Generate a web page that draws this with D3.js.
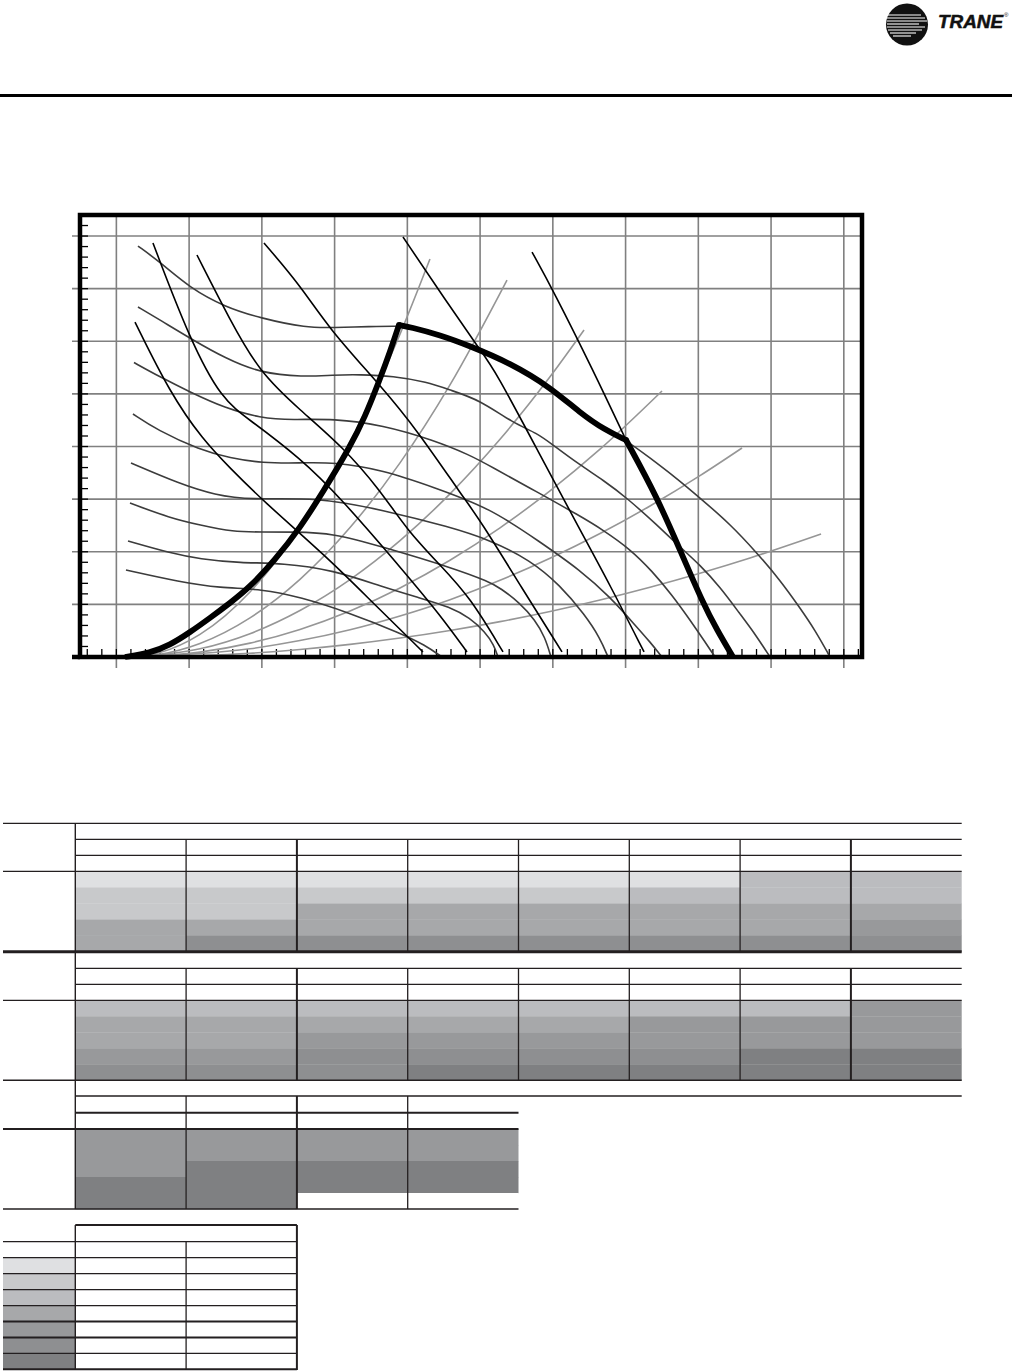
<!DOCTYPE html>
<html><head><meta charset="utf-8">
<script src="https://cdn.jsdelivr.net/npm/d3@7"></script>
<style>body{margin:0;background:#fff}svg{display:block}</style>
</head><body>
<svg id="c" width="1012" height="1371"></svg>
<script>
// ---------- chart data (CFM, in. wg) ----------
const xMajorTicks = [1000,2000,3000,4000,5000,6000,7000,8000,9000,10000,11000];
const yMajorTicks = [0.5,1.0,1.5,2.0,2.5,3.0,3.5,4.0];
const xMinorTicks = [600,800,1000,1200,1400,1600,1800,2000,2200,2400,2600,2800,3000,3200,3400,3600,3800,4000,4200,4400,4600,4800,5000,5200,5400,5600,5800,6000,6200,6400,6600,6800,7000,7200,7400,7600,7800,8000,8200,8400,8600,8800,9000,9200,9400,9600,9800,10000,10200,10400,10600,10800,11000,11200];
const yMinorTicks = [0.1,0.2,0.3,0.4,0.5,0.6,0.7,0.8,0.9,1.0,1.1,1.2,1.3,1.4,1.5,1.6,1.7,1.8,1.9,2.0,2.1,2.2,2.3,2.4,2.5,2.6,2.7,2.8,2.9,3.0,3.1,3.2,3.3,3.4,3.5,3.6,3.7,3.8,3.9,4.0,4.1];

// fan speed curves (dark grey)
const rpm1 = [[1297,3.905],[1600,3.753],[2012,3.506],[2493,3.326],[2974,3.221],[3620,3.126],[3978,3.131],[4487,3.140],[4885,3.145],[5036,3.136],[5449,3.060],[5861,2.955],[6411,2.794],[6961,2.566],[7374,2.319],[7717,2.157],[8006,2.062],[8336,1.891],[8680,1.710],[9023,1.511],[9436,1.264],[9807,0.988],[10123,0.732],[10398,0.466],[10604,0.257],[10811,0]];
const rpm2 = [[1297,3.326],[1600,3.202],[2053,3.012],[2493,2.841],[2974,2.699],[3565,2.661],[3978,2.680],[4349,2.684],[4803,2.670],[5270,2.613],[5586,2.537],[5999,2.442],[6453,2.223],[6783,2.128],[7002,2.014],[7374,1.824],[7690,1.682],[8020,1.511],[8432,1.254],[8748,1.045],[9023,0.874],[9298,0.665],[9573,0.409],[9780,0.219],[9986,0]];
const rpm3 = [[1242,2.798],[1600,2.661],[2012,2.518],[2493,2.366],[2974,2.271],[3428,2.252],[3978,2.266],[4665,2.204],[5353,2.062],[5861,1.919],[6136,1.815],[6783,1.568],[7374,1.340],[7690,1.207],[8061,1.026],[8364,0.817],[8639,0.589],[8886,0.352],[9092,0.143],[9230,0]];
const rpm4 = [[1228,2.309],[1558,2.157],[2149,1.967],[2562,1.891],[3002,1.843],[3524,1.843],[3992,1.853],[4665,1.777],[5353,1.615],[6136,1.416],[6824,1.093],[7374,0.827],[7786,0.570],[8130,0.304],[8336,0.143],[8501,0]];
const rpm5 = [[1201,1.843],[1874,1.644],[2356,1.539],[2837,1.492],[3758,1.520],[4665,1.397],[5586,1.235],[6136,1.112],[6686,0.922],[7099,0.684],[7442,0.399],[7649,0.181],[7759,0]];
const rpm6 = [[1187,1.463],[1737,1.321],[2149,1.254],[2603,1.188],[3002,1.188],[3428,1.188],[3978,1.178],[4665,1.045],[5586,0.855],[6136,0.713],[6274,0.656],[6549,0.513],[6755,0.352],[6892,0.190],[6975,0]];
const rpm7 = [[1160,1.102],[1737,0.988],[2149,0.931],[2699,0.893],[3290,0.893],[3978,0.827],[4665,0.665],[5174,0.561],[5586,0.475],[5861,0.371],[6068,0.238],[6191,0.114],[6246,0]];
const rpm8 = [[1132,0.827],[1874,0.713],[2424,0.656],[3002,0.646],[3524,0.570],[4212,0.418],[4899,0.228],[5243,0.114],[5476,0]];
const rpmCurves = [rpm1,rpm2,rpm3,rpm4,rpm5,rpm6,rpm7,rpm8];

// brake horsepower lines (black)
const bhp1 = [[1256,3.183],[1737,2.509],[2191,2.062],[2562,1.796],[3002,1.492],[3895,0.950],[4487,0.542],[5215,0.048]];
const bhp2 = [[1503,3.934],[2012,3.012],[2452,2.442],[2837,2.252],[3524,1.891],[4074,1.520],[4995,0.779],[5449,0.399],[5820,0.048]];
const bhp3 = [[2108,3.820],[2562,3.202],[2974,2.699],[3524,2.347],[4115,1.995],[4624,1.587],[4995,1.207],[5449,0.874],[5861,0.570],[6315,0.048]];
const bhp4 = [[3029,3.934],[3524,3.535],[3937,3.107],[4624,2.585],[5133,2.157],[5765,1.520],[5999,1.302],[6549,0.684],[7126,0.048]];
const bhp5 = [[4940,3.991],[5449,3.468],[5999,2.917],[6205,2.727],[6824,1.919],[7374,1.207],[7786,0.684],[8254,0.048]];
const bhp6 = [[6714,3.848],[7002,3.487],[7552,2.727],[8006,2.062]];
const bhpLines = [bhp1,bhp2,bhp3,bhp4,bhp5,bhp6];

// system curves (light grey)
const sys1 = [[1160,0],[1600,0.043],[2149,0.215],[2837,0.618],[3524,1.227],[4212,2.044],[4899,3.068],[5311,3.782]];
const sys2 = [[1160,0],[1600,0.026],[2149,0.129],[2837,0.372],[3524,0.738],[4212,1.230],[4899,1.845],[5586,2.586],[6370,3.582]];
const sys3 = [[1160,0],[2149,0.078],[2837,0.222],[3524,0.442],[4212,0.736],[4899,1.106],[5586,1.550],[6274,2.069],[6961,2.662],[7429,3.107]];
const sys4 = [[1160,0],[2149,0.046],[2837,0.132],[3524,0.262],[4212,0.437],[4899,0.656],[5586,0.919],[6274,1.227],[6961,1.579],[7649,1.975],[8501,2.528]];
const sys5 = [[1160,0],[2837,0.078],[3524,0.156],[4212,0.259],[4899,0.390],[5586,0.545],[6274,0.729],[6961,0.938],[7649,1.173],[8336,1.435],[9023,1.723],[9601,1.986]];
const sys6 = [[1160,0],[2837,0.036],[3524,0.072],[4212,0.120],[4899,0.180],[5586,0.252],[6274,0.336],[6961,0.433],[7649,0.542],[8336,0.663],[9023,0.796],[9711,0.941],[10398,1.099],[10687,1.169]];
const systemCurves = [sys1,sys2,sys3,sys4,sys5,sys6];

// operating envelope (thick black)
const envelopeRise = [[1118,0],[1462,0.038],[1737,0.114],[1998,0.228],[2287,0.371],[2562,0.513],[2837,0.665],[3180,0.922],[3524,1.226],[3840,1.568],[4211,1.995],[4418,2.281],[4624,2.642],[4761,2.898],[4885,3.155]];
const envelopeTop = [[4885,3.155],[5036,3.136],[5449,3.060],[5861,2.955],[6411,2.794],[6961,2.566],[7374,2.319],[7717,2.157],[8006,2.062]];
const envelopeFall = [[8006,2.062],[8432,1.520],[8748,1.017],[9064,0.513],[9257,0.257],[9477,0]];

// ---------- table data (shade level per row, per column) ----------
const shades = ["#ffffff","#dfe0e2","#c8c9cb","#bbbcbf","#a7a8aa","#98999b","#8e8f91","#7f8082"];
const tableOne   = [[1,2,2,4,4],[1,2,2,4,6],[1,2,4,4,6],[1,2,4,4,6],[1,2,4,4,6],[1,3,4,4,6],[3,3,4,4,6],[3,3,4,5,6]];
const tableTwo   = [[3,4,4,5,6],[3,4,4,5,6],[3,4,5,6,6],[3,4,5,6,7],[3,4,5,6,7],[3,5,5,6,7],[3,5,5,7,7],[5,5,5,7,7]];
const tableThree = [[5,5,5,7,7],[5,5,7,7,7],[5,5,7,7,0],[5,5,7,7,0]];
const legendLevels = [1,2,3,4,5,6,7];

// ---------- drawing ----------
const svg = d3.select("#c");
const x = d3.scaleLinear().domain([500,11250]).range([80,862]);
const y = d3.scaleLinear().domain([0,4.2]).range([657,215]);
const ink = "#231f20";

// header rule
svg.append("line").attr("x1",0).attr("x2",1012).attr("y1",95.5).attr("y2",95.5)
  .attr("stroke","#000").attr("stroke-width",3);

// logo
const logo = svg.append("g");
logo.append("circle").attr("cx",907).attr("cy",24.5).attr("r",21).attr("fill","#111");
const stripes = [[888,15,921],[887,18,925],[887,21,927],[887,24,919],[887,27,925],[888,30,922],[890,33,916],[893,36,911]];
logo.selectAll("line.s").data(stripes).join("line")
  .attr("x1",d=>d[0]).attr("x2",d=>d[2]).attr("y1",d=>d[1]).attr("y2",d=>d[1])
  .attr("stroke","#fff").attr("stroke-width",1.1);
logo.append("text").attr("x",938).attr("y",28).text("TRANE")
  .attr("font-family","Liberation Sans, Arial, sans-serif").attr("font-weight","900")
  .attr("font-style","italic").attr("font-size",17.5).attr("textLength",65)
  .attr("lengthAdjust","spacingAndGlyphs").attr("fill","#111")
  .attr("stroke","#111").attr("stroke-width",0.5);
logo.append("text").attr("x",1004).attr("y",17).text("®")
  .attr("font-family","Liberation Sans, Arial, sans-serif").attr("font-size",6).attr("fill","#111");

// chart grid
const g = svg.append("g");
g.selectAll("line.gx").data(xMajorTicks).join("line")
  .attr("x1",d=>x(d)).attr("x2",d=>x(d)).attr("y1",y(4.2)).attr("y2",668)
  .attr("stroke","#808080").attr("stroke-width",1.6);
g.selectAll("line.gy").data(yMajorTicks).join("line")
  .attr("x1",72).attr("x2",x(11250)).attr("y1",d=>y(d)).attr("y2",d=>y(d))
  .attr("stroke","#808080").attr("stroke-width",1.6);

// minor ticks
g.selectAll("line.mx").data(xMinorTicks).join("line")
  .attr("x1",d=>x(d)).attr("x2",d=>x(d)).attr("y1",y(0)).attr("y2",y(0)-8)
  .attr("stroke","#000").attr("stroke-width",1.3);
g.selectAll("line.my").data(yMinorTicks).join("line")
  .attr("x1",x(500)).attr("x2",x(500)+8).attr("y1",d=>y(d)).attr("y2",d=>y(d))
  .attr("stroke","#000").attr("stroke-width",1.3);

const smooth = d3.line().x(d=>x(d[0])).y(d=>y(d[1])).curve(d3.curveBasis);
const mono = d3.line().x(d=>x(d[0])).y(d=>y(d[1])).curve(d3.curveMonotoneX);

g.selectAll("path.sys").data(systemCurves).join("path")
  .attr("d",mono).attr("fill","none").attr("stroke","#969696").attr("stroke-width",1.6);
g.selectAll("path.rpm").data(rpmCurves).join("path")
  .attr("d",smooth).attr("fill","none").attr("stroke","#3c3c3c").attr("stroke-width",1.6);
g.selectAll("path.bhp").data(bhpLines).join("path")
  .attr("d",smooth).attr("fill","none").attr("stroke","#000").attr("stroke-width",1.6);
g.selectAll("path.env").data([envelopeRise,envelopeTop,envelopeFall]).join("path")
  .attr("d",smooth).attr("fill","none").attr("stroke","#000").attr("stroke-width",5.8)
  .attr("stroke-linejoin","round");
g.selectAll("circle.joint").data([envelopeTop[0],envelopeFall[0]]).join("circle")
  .attr("cx",d=>x(d[0])).attr("cy",d=>y(d[1])).attr("r",2.9).attr("fill","#000");

// frame
g.append("rect").attr("x",x(500)).attr("y",y(4.2)).attr("width",x(11250)-x(500)).attr("height",y(0)-y(4.2))
  .attr("fill","none").attr("stroke","#000").attr("stroke-width",4.5);
g.append("line").attr("x1",72).attr("x2",x(500)).attr("y1",y(0)).attr("y2",y(0))
  .attr("stroke","#000").attr("stroke-width",4.5);

// ---------- tables ----------
const T = svg.append("g");
const cols = d3.scaleBand().domain(d3.range(8)).range([75.3,961.7]);
function hline(x1,x2,yy,w){T.append("line").attr("x1",x1).attr("x2",x2).attr("y1",yy).attr("y2",yy).attr("stroke",ink).attr("stroke-width",w||1.3);}
function vline(xx,y1,y2,w){T.append("line").attr("x1",xx).attr("x2",xx).attr("y1",y1).attr("y2",y2).attr("stroke",ink).attr("stroke-width",w||1.3);}
function fills(data, top, bottom){
  const rows = d3.scaleBand().domain(d3.range(5)).range([top,bottom]);
  data.forEach((col,ci)=>{
    T.selectAll(null).data(col).join("rect")
      .attr("x",cols(ci)).attr("width",cols.bandwidth())
      .attr("y",(d,ri)=>rows(ri)).attr("height",rows.bandwidth()+0.3)
      .attr("fill",d=>shades[d]);
  });
}
fills(tableOne,871.3,951.7);
fills(tableTwo,1000.3,1080.3);
fills(tableThree,1129,1209);

const heavyCols = [2,7];
// block 1
hline(3,961.7,823.3); hline(75.3,961.7,839.3); hline(75.3,961.7,855.3); hline(3,961.7,871.3);
d3.range(1,8).forEach(i=>vline(cols(i),839.3,951.7,heavyCols.includes(i)?2:1.3));
hline(3,961.7,951.7,3);
// block 2
hline(75.3,961.7,968.3); hline(75.3,961.7,984.3); hline(3,961.7,1000.3); hline(3,961.7,1080.3,1.5);
d3.range(1,8).forEach(i=>vline(cols(i),968.3,1080.3,heavyCols.includes(i)?2:1.3));
// block 3
hline(75.3,961.7,1096); hline(75.3,cols(4),1112.7,2); hline(3,cols(4),1129,2); hline(3,cols(4),1209,1.5);
d3.range(1,4).forEach(i=>vline(cols(i),1096,1209,heavyCols.includes(i)?2:1.3));
vline(75.3,823.3,1209,1.4);

// legend
const legRows = d3.scaleBand().domain(legendLevels).range([1257.7,1369.3]);
T.selectAll(null).data(legendLevels).join("rect")
  .attr("x",3).attr("width",72.3).attr("y",d=>legRows(d)).attr("height",legRows.bandwidth()+0.3)
  .attr("fill",d=>shades[d]);
hline(75.3,cols(2),1225,2);
hline(3,cols(2),1241.7);
legendLevels.forEach(l=>hline(3,cols(2),legRows(l), (l===5||l===6)?2:1.3));
hline(3,cols(2),1369.3,2);
vline(75.3,1225,1369.3,1.4);
vline(cols(1),1241.7,1369.3);
vline(cols(2),1225,1370,2);
</script>
</body></html>
